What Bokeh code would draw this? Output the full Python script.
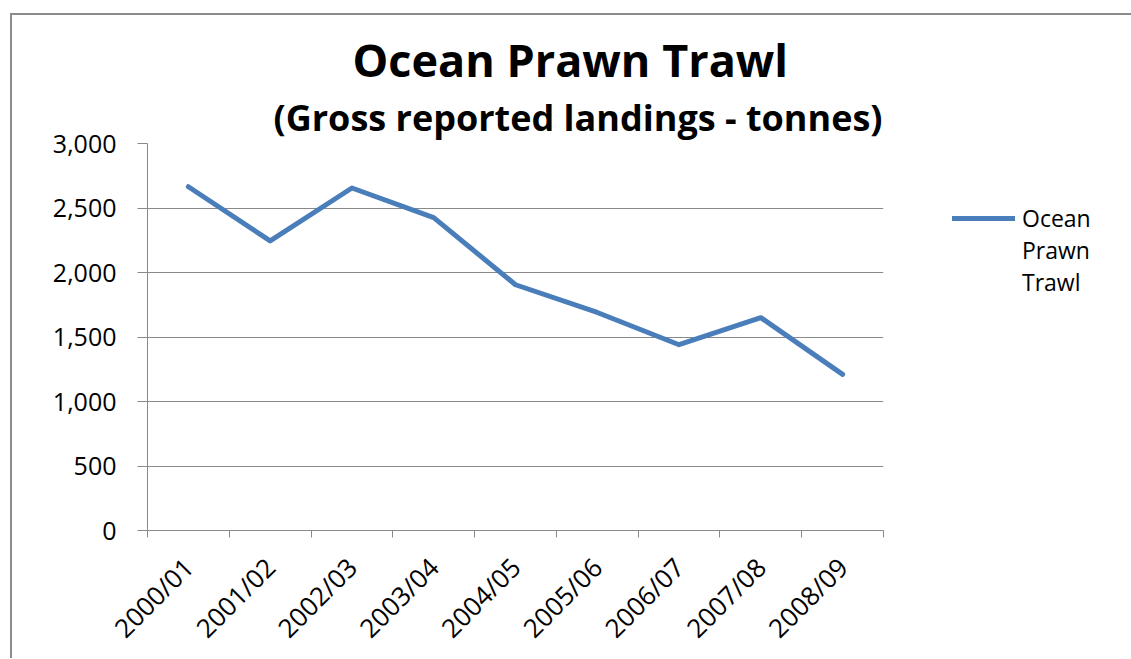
import numpy as np
from bokeh.plotting import figure
from bokeh.models import (Range1d, FixedTicker, NumeralTickFormatter, Title,
                          Legend, LegendItem, ColumnDataSource)
from bokeh.embed import file_html
from bokeh.resources import INLINE

# ---- data ----
seasons = ["2000/01", "2001/02", "2002/03", "2003/04", "2004/05",
           "2005/06", "2006/07", "2007/08", "2008/09"]
landings = [2665, 2245, 2655, 2425, 1905, 1690, 1440, 1650, 1210]
y_ticks = [0, 500, 1000, 1500, 2000, 2500, 3000]
title_text = "Ocean Prawn Trawl"
subtitle_text = "(Gross reported landings - tonnes)"
series_name = ["Ocean", "Prawn\nTrawl"]

FONT = "Open Sans"
GRAY = "#8a8a8a"
BLUE = "#4a7ebb"

x_pos = [i + 0.5 for i in range(len(seasons))]
src = ColumnDataSource(dict(x=x_pos, y=landings, season=seasons))

p = figure(frame_width=736, frame_height=387, output_backend="svg", toolbar_location=None,
           x_range=Range1d(0, len(seasons)), y_range=Range1d(0, 3000),
           min_border_left=135, min_border_right=240,
           min_border_top=128, min_border_bottom=121)
p.margin = (15, 0, 0, 12)
p.styles = {"box-shadow": "-2px -2px 0px 0px #8c8c8c"}
p.outline_line_color = None
p.background_fill_color = "white"
p.border_fill_color = "white"

r = p.line("x", "y", source=src, line_color=BLUE, line_width=5,
           line_cap="round", line_join="round")
r_blank = p.line(x=[], y=[], line_alpha=0)

# axes
xa = p.xaxis[0]
xa.ticker = FixedTicker(ticks=x_pos, minor_ticks=list(range(len(seasons) + 1)))
xa.major_label_overrides = {x: s for x, s in zip(x_pos, seasons)}
xa.major_label_orientation = np.pi / 4
xa.major_tick_out = 0
xa.major_tick_in = 0
xa.minor_tick_out = 7
xa.minor_tick_in = 0
xa.minor_tick_line_color = GRAY
xa.axis_line_color = GRAY
xa.major_label_text_font = FONT
xa.major_label_text_font_size = "26px"
xa.major_label_text_color = "black"
xa.major_label_standoff = 25

ya = p.yaxis[0]
ya.ticker = FixedTicker(ticks=y_ticks)
ya.formatter = NumeralTickFormatter(format="0,0")
ya.major_tick_out = 10
ya.major_tick_in = 0
ya.minor_tick_line_color = None
ya.major_tick_line_color = GRAY
ya.axis_line_color = GRAY
ya.major_label_text_font = FONT
ya.major_label_text_font_size = "25px"
ya.major_label_text_color = "black"
ya.major_label_standoff = 21

p.xgrid.grid_line_color = None
p.ygrid.grid_line_color = GRAY
p.ygrid.grid_line_width = 1

# titles (first added sits closest to the frame)
p.add_layout(Title(text=subtitle_text, text_font=FONT, text_font_style="bold",
                   text_font_size="36px", align="left", offset=126, standoff=3,
                   text_color="black"), "above")
p.add_layout(Title(text=title_text, text_font=FONT, text_font_style="bold",
                   text_font_size="45px", align="left", offset=205, standoff=0,
                   text_color="black"), "above")

legend = Legend(items=[LegendItem(label=series_name[0], renderers=[r]),
                       LegendItem(label=series_name[1], renderers=[r_blank])],
                location=(69, 232), border_line_color=None, background_fill_alpha=0,
                padding=0, margin=0, spacing=0, glyph_width=63, glyph_height=32,
                label_height=32, label_standoff=7, label_text_font=FONT,
                label_text_font_size="23px", label_text_line_height=1.4,
                label_text_color="black")
p.add_layout(legend, "right")

open("out.html", "w").write(file_html(p, INLINE))
